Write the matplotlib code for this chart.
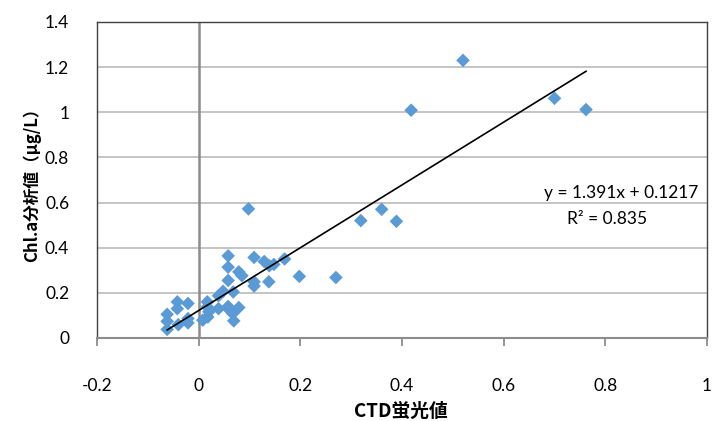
import matplotlib
matplotlib.use("Agg")
import matplotlib.pyplot as plt
import numpy as np

# CTD fluorescence (x) vs Chl.a analytical value (y)
ctd = [0.52, 0.418, 0.70, 0.762, 0.098, 0.319, 0.36, 0.389, 0.198, 0.27,
       0.058, 0.109, 0.058, 0.129, 0.139, 0.148, 0.169, 0.058, 0.079, 0.085,
       0.109, 0.109, 0.138, 0.068, 0.048, 0.039, 0.017, 0.017, 0.02, 0.008,
       0.018, 0.039, 0.058, 0.061, 0.067, 0.069, 0.079, -0.042, -0.021, -0.042,
       -0.062, -0.062, -0.062, -0.04, -0.021, -0.021]
chl = [1.23, 1.009, 1.062, 1.012, 0.572, 0.52, 0.57, 0.517, 0.273, 0.268,
       0.364, 0.357, 0.314, 0.339, 0.32, 0.326, 0.35, 0.255, 0.293, 0.276,
       0.249, 0.23, 0.249, 0.204, 0.207, 0.187, 0.16, 0.138, 0.116, 0.079,
       0.093, 0.13, 0.14, 0.123, 0.108, 0.076, 0.135, 0.16, 0.153, 0.13,
       0.105, 0.074, 0.038, 0.059, 0.067, 0.086]
slope = 1.391
intercept = 0.1217
r2 = 0.835
xticks = [-0.2, 0, 0.2, 0.4, 0.6, 0.8, 1]
xticklabels = ["-0.2", "0", "0.2", "0.4", "0.6", "0.8", "1"]
yticks = [0, 0.2, 0.4, 0.6, 0.8, 1, 1.2, 1.4]
yticklabels = ["0", "0.2", "0.4", "0.6", "0.8", "1", "1.2", "1.4"]

tickfont = ["Lato", "DejaVu Sans"]
cjk = ["Noto Sans CJK JP", "DejaVu Sans"]

fig = plt.figure(figsize=(7.12, 4.21), dpi=100)
ax = fig.add_axes([97/712, 1-338/421, 610/712, 316/421])
ax.set_xlim(-0.2, 1)
ax.set_ylim(0, 1.4)

for yv in yticks[1:-1]:
    ax.axhline(yv, color="#BFBFBF", lw=1.3, zorder=0)
ax.axvline(0, color="#8C8C8C", lw=1.8, zorder=1)

for s in ["top", "right", "left"]:
    ax.spines[s].set_color("#404040")
    ax.spines[s].set_linewidth(1.0)
ax.spines["bottom"].set_color("#8C8C8C")
ax.spines["bottom"].set_linewidth(1.5)

ax.scatter(ctd, chl, marker="D", s=48, color="#5B9BD5", edgecolors="none", zorder=3)

xl = np.array([min(ctd), max(ctd)])
ax.plot(xl, slope*xl + intercept, color="black", lw=1.2, zorder=4)

ax.set_xticks(xticks)
ax.set_xticklabels(xticklabels, family=tickfont, fontsize=12.5)
ax.set_yticks(yticks)
ax.set_yticklabels(yticklabels, family=tickfont, fontsize=12.5)
ax.tick_params(axis="x", direction="out", length=6, width=1.3, color="#8C8C8C", pad=23)
ax.tick_params(axis="y", length=0, pad=20)

ax.text(0.831, 0.642, f"y = {slope}x + {intercept}", family=tickfont, fontsize=12.5,
        ha="center", va="center")
ax.text(0.803, 0.527, f"R² = {r2}", family=tickfont, fontsize=12.5,
        ha="center", va="center")

fig.text(401/712, 1-411/421, "CTD蛍光値", family=cjk, fontsize=13.5,
         fontweight="bold", ha="center", va="center")
fig.text(32/712, 1-181/421, "Chl.a分析値（μg/L）", family=cjk, fontsize=12,
         fontweight="bold", ha="center", va="center", rotation=90)

fig.savefig("out.png", dpi=100)
